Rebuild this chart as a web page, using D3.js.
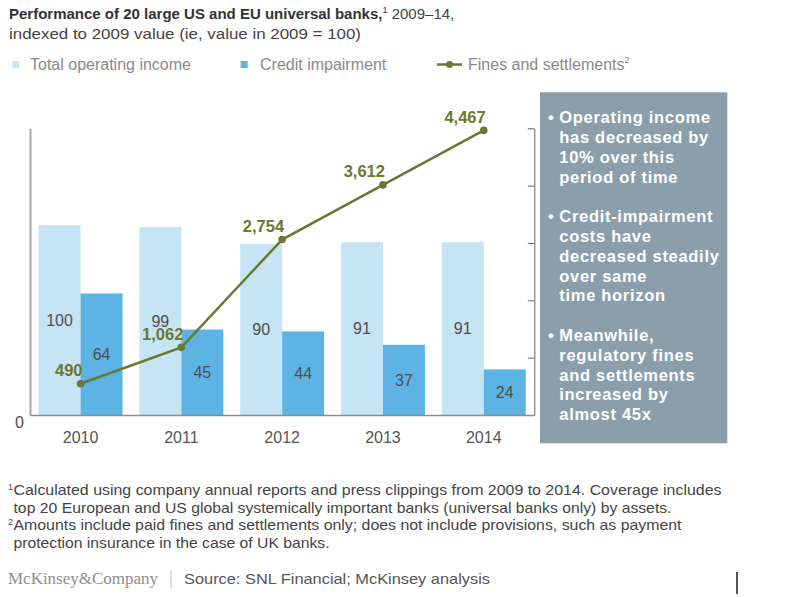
<!DOCTYPE html>
<html>
<head>
<meta charset="utf-8">
<script src="https://cdn.jsdelivr.net/npm/d3@7"></script>
<style>
  body { margin: 0; background: #ffffff; }
  svg { display: block; font-family: "Liberation Sans", Arial, Helvetica, sans-serif; }
</style>
</head>
<body>
<script>
// ---------- data ----------
const years = ["2010", "2011", "2012", "2013", "2014"];
const operatingIncome = [100, 99, 90, 91, 91];
const creditImpairment = [64, 45, 44, 37, 24];
const finesSettlements = [490, 1062, 2754, 3612, 4467];
const seriesNames = ["Total operating income", "Credit impairment", "Fines and settlements"];
const leftTicks = [0];
const rightTicks = [0, 900, 1800, 2700, 3600, 4500];

const titleBold = "Performance of 20 large US and EU universal banks,";
const titleRest = " 2009–14,";
const subtitle = "indexed to 2009 value (ie, value in 2009 = 100)";

const panelBlocks = [
  ["Operating income", "has decreased by", "10% over this", "period of time"],
  ["Credit-impairment", "costs have", "decreased steadily", "over same", "time horizon"],
  ["Meanwhile,", "regulatory fines", "and settlements", "increased by", "almost 45x"]
];

const footnotes = [
  { sup: "1", text: "Calculated using company annual reports and press clippings from 2009 to 2014. Coverage includes" },
  { sup: "", text: "top 20 European and US global systemically important banks (universal banks only) by assets." },
  { sup: "2", text: "Amounts include paid fines and settlements only; does not include provisions, such as payment" },
  { sup: "", text: "protection insurance in the case of UK banks." }
];
const brand = "McKinsey&Company";
const source = "Source: SNL Financial; McKinsey analysis";

// ---------- styles ----------
const cLight = "#c6e5f4";
const cDark = "#5db4e4";
const cLine = "#6b7833";
const cLabelOlive = "#6a7830";

const W = 791, H = 597;
const svg = d3.select("body").append("svg").attr("width", W).attr("height", H);

// ---------- scales ----------
const plotLeft = 30, plotRight = 534.3, plotTop = 128.3, plotBottom = 415;
const x = d3.scaleBand().domain(years).range([plotLeft, plotRight])
  .paddingInner(0.167).paddingOuter(0.085);
const xSub = d3.scaleBand().domain(["income", "impairment"]).range([0, x.bandwidth()]).padding(0);
const yLeft = d3.scaleLinear().domain([0, 151]).range([plotBottom, plotTop]);
const yRight = d3.scaleLinear().domain([0, 4500]).range([plotBottom, plotTop]);

// ---------- title ----------
const t1 = svg.append("text").attr("x", 9).attr("y", 19).attr("fill", "#333").attr("font-size", 15);
t1.append("tspan").attr("font-weight", "bold").text(titleBold);
t1.append("tspan").attr("font-size", 9).attr("dy", -6).text("1");
t1.append("tspan").attr("dy", 6).attr("fill", "#444").text(titleRest);
svg.append("text").attr("x", 9).attr("y", 38.7).attr("fill", "#444").attr("font-size", 15)
  .attr("textLength", 352).attr("lengthAdjust", "spacingAndGlyphs").text(subtitle);

// ---------- legend ----------
const lgY = 64.5;
const lg = svg.append("g").attr("font-size", 16).attr("fill", "#8a8a8a");
lg.append("rect").attr("x", 12.3).attr("y", lgY - 3.5).attr("width", 7).attr("height", 7).attr("fill", cLight);
lg.append("text").attr("x", 30).attr("y", lgY + 5.7).text(seriesNames[0]);
lg.append("rect").attr("x", 240.7).attr("y", lgY - 3.5).attr("width", 7).attr("height", 7).attr("fill", cDark);
lg.append("text").attr("x", 260).attr("y", lgY + 5.7).text(seriesNames[1]);
lg.append("line").attr("x1", 437).attr("x2", 462).attr("y1", lgY).attr("y2", lgY)
  .attr("stroke", cLine).attr("stroke-width", 2.5);
lg.append("circle").attr("cx", 449.5).attr("cy", lgY).attr("r", 3.5).attr("fill", cLine);
const lt = lg.append("text").attr("x", 468).attr("y", lgY + 5.7).text(seriesNames[2]);
lt.append("tspan").attr("font-size", 9).attr("dy", -7).text("2");

// ---------- bars ----------
const groups = svg.append("g").selectAll("g").data(years).join("g")
  .attr("transform", d => `translate(${x(d)},0)`);
groups.append("rect")
  .attr("x", xSub("income")).attr("width", xSub.bandwidth())
  .attr("y", (d, i) => yLeft(operatingIncome[i]))
  .attr("height", (d, i) => yLeft(0) - yLeft(operatingIncome[i]))
  .attr("fill", cLight);
groups.append("rect")
  .attr("x", xSub("impairment")).attr("width", xSub.bandwidth())
  .attr("y", (d, i) => yLeft(creditImpairment[i]))
  .attr("height", (d, i) => yLeft(0) - yLeft(creditImpairment[i]))
  .attr("fill", cDark);
// bar value labels (middle of bar)
groups.append("text")
  .attr("x", xSub("income") + xSub.bandwidth() / 2)
  .attr("y", (d, i) => (yLeft(operatingIncome[i]) + yLeft(0)) / 2)
  .attr("dy", "0.36em").attr("text-anchor", "middle")
  .attr("font-size", 16).attr("fill", "#4d4d4d")
  .text((d, i) => operatingIncome[i]);
groups.append("text")
  .attr("x", xSub("impairment") + xSub.bandwidth() / 2)
  .attr("y", (d, i) => (yLeft(creditImpairment[i]) + yLeft(0)) / 2)
  .attr("dy", "0.36em").attr("text-anchor", "middle")
  .attr("font-size", 16).attr("fill", "#4d4d4d")
  .text((d, i) => creditImpairment[i]);

// ---------- axes ----------
const axL = svg.append("g").attr("transform", `translate(${plotLeft},0)`)
  .call(d3.axisLeft(yLeft).tickValues(leftTicks).tickSize(0).tickSizeOuter(0).tickPadding(6));
axL.select(".domain").attr("stroke", "#a8a8a8").attr("stroke-width", 2);
axL.selectAll("text").attr("font-size", 16).attr("fill", "#4d4d4d")
  .attr("font-family", "Liberation Sans, Arial, sans-serif").attr("dy", "0.75em");

const axR = svg.append("g").attr("transform", `translate(${plotRight},0)`)
  .call(d3.axisLeft(yRight).tickValues(rightTicks).tickSize(6.5).tickSizeOuter(0).tickFormat(""));
axR.selectAll("line").attr("stroke", "#666");
axR.select(".domain").attr("stroke", "#666").attr("stroke-width", 1);

const axB = svg.append("g").attr("transform", `translate(0,${plotBottom})`)
  .call(d3.axisBottom(x).tickSize(0).tickSizeOuter(0).tickPadding(17));
axB.select(".domain").attr("stroke", "#8c8c8c").attr("stroke-width", 1.6);
axB.selectAll("text").attr("font-size", 16).attr("fill", "#555")
  .attr("font-family", "Liberation Sans, Arial, sans-serif");

// ---------- fines line ----------
const cx = d => x(d) + x.bandwidth() / 2;
const line = d3.line().x((d, i) => cx(years[i])).y(d => yRight(d));
svg.append("path").datum(finesSettlements).attr("d", line)
  .attr("fill", "none").attr("stroke", cLine).attr("stroke-width", 2.5);
svg.append("g").selectAll("circle").data(finesSettlements).join("circle")
  .attr("cx", (d, i) => cx(years[i])).attr("cy", d => yRight(d)).attr("r", 3.8).attr("fill", cLine);
svg.append("g").selectAll("text").data(finesSettlements).join("text")
  .attr("x", (d, i) => cx(years[i]) + 2).attr("y", d => yRight(d) - 7.5)
  .attr("text-anchor", "end").attr("font-weight", "bold").attr("font-size", 16.5)
  .attr("fill", cLabelOlive).text(d => d3.format(",")(d));

// ---------- side panel ----------
svg.append("rect").attr("x", 540).attr("y", 92.3).attr("width", 187.3).attr("height", 351)
  .attr("fill", "#8a9fab");
const pg = svg.append("g").attr("fill", "#ffffff").attr("font-weight", "bold")
  .attr("font-size", 16.5).attr("letter-spacing", "0.7px");
let yy = 123.2;
panelBlocks.forEach((block, bi) => {
  block.forEach((ln, li) => {
    if (li === 0) pg.append("text").attr("x", 548).attr("y", yy).attr("letter-spacing", "0").text("•");
    pg.append("text").attr("x", 559.3).attr("y", yy).text(ln);
    yy += 19.8;
  });
  yy += 19.8;
});

// ---------- footnotes ----------
const fn = svg.append("g").attr("fill", "#444");
const fnBase = [495, 512.5, 530, 547.5];
const fnLen = [708, 658, 668, 316];
footnotes.forEach((f, i) => {
  if (f.sup) fn.append("text").attr("x", 8).attr("y", fnBase[i] - 5).attr("font-size", 9).text(f.sup);
  fn.append("text").attr("x", 13.5).attr("y", fnBase[i]).attr("font-size", 14.5)
    .attr("textLength", fnLen[i]).attr("lengthAdjust", "spacingAndGlyphs")
    .text((f.sup ? "" : " ") + f.text);
});

// ---------- footer ----------
svg.append("text").attr("x", 8).attr("y", 584).attr("font-family", "Liberation Serif, Times New Roman, serif")
  .attr("font-size", 16).attr("fill", "#8e8e8e")
  .attr("textLength", 150).attr("lengthAdjust", "spacingAndGlyphs").text(brand);
svg.append("line").attr("x1", 171).attr("x2", 171).attr("y1", 571).attr("y2", 588)
  .attr("stroke", "#bbb").attr("stroke-width", 1);
svg.append("text").attr("x", 184).attr("y", 584).attr("font-size", 15).attr("fill", "#555")
  .attr("textLength", 306).attr("lengthAdjust", "spacingAndGlyphs").text(source);
svg.append("line").attr("x1", 737).attr("x2", 737).attr("y1", 572).attr("y2", 594)
  .attr("stroke", "#555").attr("stroke-width", 2);
</script>
</body>
</html>
